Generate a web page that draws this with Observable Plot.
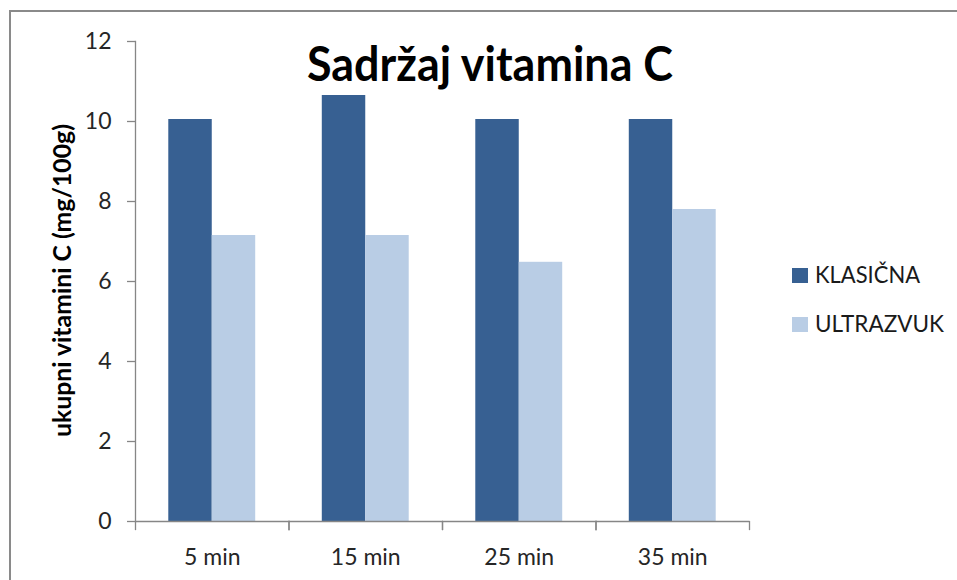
<!DOCTYPE html>
<html>
<head>
<meta charset="utf-8">
<script src="https://cdn.jsdelivr.net/npm/d3@7"></script>
<script src="https://cdn.jsdelivr.net/npm/@observablehq/plot@0.6"></script>
<style>
  html, body { margin: 0; padding: 0; background: #fff; }
  #wrap { position: relative; width: 957px; height: 580px; overflow: hidden; background: #fff; }
  #border { position: absolute; left: 9px; top: 10px; width: 1000px; height: 1000px; border-left: 2px solid #8a8a8a; border-top: 2px solid #8a8a8a; box-sizing: border-box; }
  #chart { position: absolute; left: 0; top: 0; }
  #overlay { position: absolute; left: 0; top: 0; pointer-events: none; }
</style>
</head>
<body>
<div id="wrap">
  <div id="border"></div>
  <div id="chart"></div>
  <svg id="overlay" width="957" height="580"></svg>
</div>
<script>
// ---- data ----
const times = ["5 min", "15 min", "25 min", "35 min"];
const series = ["KLASIČNA", "ULTRAZVUK"];
const klasicna = [10.05, 10.65, 10.05, 10.05];
const ultrazvuk = [7.15, 7.15, 6.48, 7.8];
const yTicks = [0, 2, 4, 6, 8, 10, 12];
const colors = ["#376092", "#B9CDE5"];
const titleText = "Sadržaj vitamina C";
const yLabel = "ukupni vitamini C (mg/100g)";

const data = times.flatMap((t, i) => [
  {time: t, series: series[0], value: klasicna[i]},
  {time: t, series: series[1], value: ultrazvuk[i]}
]);

// ---- layout ----
const W = 957, H = 580;
const mL = 135, mR = 208, mT = 41, mB = 59;
const plotH = H - mT - mB;
const gray = "#868686";
const font = "Lato, 'Open Sans', sans-serif";

const chart = Plot.plot({
  width: W,
  height: H,
  marginLeft: mL,
  marginRight: mR,
  marginTop: mT,
  marginBottom: mB,
  style: {fontFamily: font, background: "transparent", color: "#262626"},
  fx: {domain: times, padding: 0, round: false, label: null},
  x: {domain: series, paddingInner: 0, paddingOuter: 0.766, round: false, axis: null},
  y: {domain: [0, 12], label: null},
  color: {domain: series, range: colors},
  marks: [
    Plot.barY(data, {fx: "time", x: "series", y: "value", fill: "series"}),
    Plot.ruleY([0], {stroke: gray, strokeWidth: 1.3}),
    Plot.frame({anchor: "left", facetAnchor: "left", stroke: gray, strokeWidth: 1.3}),
    Plot.frame({anchor: "left", insetTop: plotH, insetBottom: -8, stroke: gray, strokeWidth: 1.3}),
    Plot.frame({anchor: "right", insetTop: plotH, insetBottom: -8, stroke: gray, strokeWidth: 1.3}),
    Plot.axisY({ticks: yTicks, tickSize: 8, tickPadding: 16, stroke: gray, fill: "#262626", fontSize: 23, label: null, strokeWidth: 1.3}),
    Plot.axisFx({anchor: "bottom", tickSize: 0, tickPadding: 27, fill: "#262626", fontSize: 23, label: null})
  ]
});
document.getElementById("chart").appendChild(chart);

// ---- title, axis label, legend ----
const ov = d3.select("#overlay");
ov.append("text")
  .attr("x", 490).attr("y", 80.5)
  .attr("text-anchor", "middle")
  .attr("font-family", font).attr("font-weight", "bold").attr("font-size", 47)
  .attr("fill", "#000")
  .attr("textLength", 366).attr("lengthAdjust", "spacingAndGlyphs")
  .text(titleText);

ov.append("text")
  .attr("transform", "translate(70.5,280.5) rotate(-90)")
  .attr("text-anchor", "middle")
  .attr("font-family", font).attr("font-weight", "bold").attr("font-size", 24)
  .attr("fill", "#000")
  .attr("textLength", 313).attr("lengthAdjust", "spacingAndGlyphs")
  .text(yLabel);

const legendRows = [
  {label: series[0], color: colors[0], top: 268, base: 283.3, w: 105},
  {label: series[1], color: colors[1], top: 317, base: 332.3, w: 129}
];
legendRows.forEach(r => {
  ov.append("rect").attr("x", 792).attr("y", r.top).attr("width", 16).attr("height", 15).attr("fill", r.color);
  ov.append("text")
    .attr("x", 815).attr("y", r.base)
    .attr("font-family", font).attr("font-size", 23).attr("fill", "#1a1a1a")
    .attr("textLength", r.w).attr("lengthAdjust", "spacingAndGlyphs")
    .text(r.label);
});
</script>
</body>
</html>
